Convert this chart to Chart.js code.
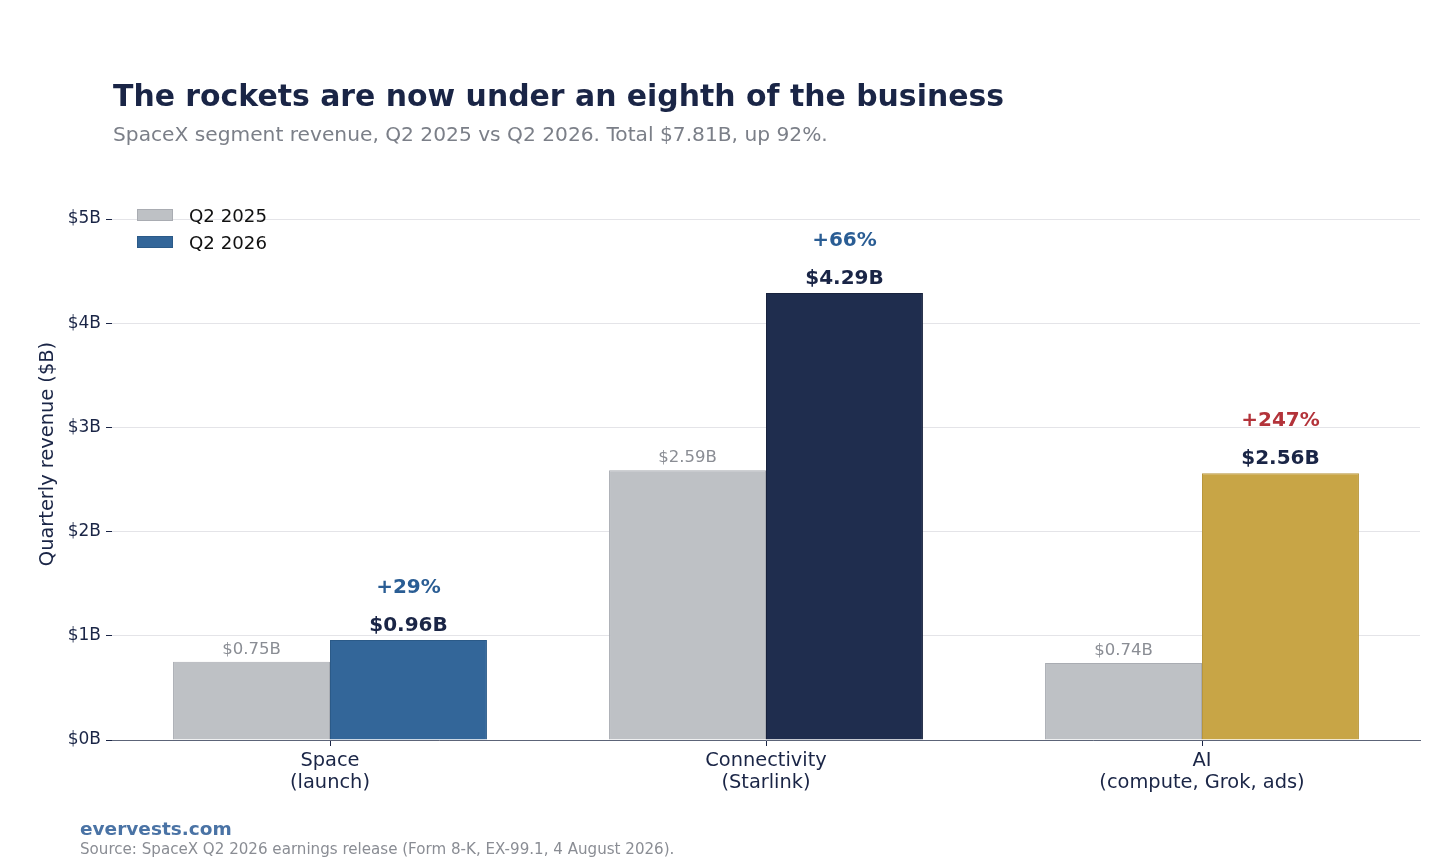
<!DOCTYPE html>
<html>
<head>
<meta charset="utf-8">
<script src="https://cdn.jsdelivr.net/npm/chart.js@4.4.1/dist/chart.umd.min.js"></script>
<style>
  html, body { margin: 0; padding: 0; background: #fff; }
  body { width: 1456px; height: 861px; position: relative; overflow: hidden; font-family: "DejaVu Sans", sans-serif; }
  #chart { position: absolute; left: 0; top: 0; }
  .txt { position: absolute; line-height: 1; white-space: nowrap; }
  #title { left: 113px; top: 81px; font-size: 29.9px; font-weight: bold; color: #1a2546; }
  #subtitle { left: 113px; top: 124px; font-size: 20.2px; color: #7b7f88; }
  #brand { left: 80px; top: 820px; font-size: 18.5px; font-weight: bold; color: #4a73a5; }
  #source { left: 80px; top: 842px; font-size: 15.1px; color: #8a8d94; }
</style>
</head>
<body>
<canvas id="chart" width="1456" height="861"></canvas>
<div class="txt" id="title">The rockets are now under an eighth of the business</div>
<div class="txt" id="subtitle">SpaceX segment revenue, Q2 2025 vs Q2 2026. Total $7.81B, up 92%.</div>
<div class="txt" id="brand">evervests.com</div>
<div class="txt" id="source">Source: SpaceX Q2 2026 earnings release (Form 8-K, EX-99.1, 4 August 2026).</div>

<script>
// segment revenue, $B
var categories = [["Space", "(launch)"], ["Connectivity", "(Starlink)"], ["AI", "(compute, Grok, ads)"]];
var seriesNames = ["Q2 2025", "Q2 2026"];
var q2025 = [0.75, 2.59, 0.74];
var q2026 = [0.96, 4.29, 2.56];
var growthLabels = ["+29%", "+66%", "+247%"];
var yTicks = [0, 1, 2, 3, 4, 5];

var NAVY = "#1a2546";
var GREY_BAR = "#bec1c5";
var newColors = ["#336699", "#1f2d4e", "#c8a546"];
var newBorders = ["#2b5a88", "#18223d", "#b8963c"];
var growthColors = ["#2a5d94", "#2a5d94", "#b3333a"];

function money(v) {
    return "$" + v.toFixed(2) + "B";
}

var barLabels = {
    id: "barLabels",
    afterDatasetsDraw: function (chart) {
        var ctx = chart.ctx;
        var oldMeta = chart.getDatasetMeta(0),
            newMeta = chart.getDatasetMeta(1);
        ctx.save();
        ctx.textAlign = "center";
        ctx.textBaseline = "alphabetic";
        oldMeta.data.forEach(function (bar, i) {
            ctx.font = "16.5px 'DejaVu Sans'";
            ctx.fillStyle = "#8a8d94";
            ctx.fillText(money(q2025[i]), bar.x, bar.y - 8);
        });
        newMeta.data.forEach(function (bar, i) {
            ctx.font = "bold 20px 'DejaVu Sans'";
            ctx.fillStyle = NAVY;
            ctx.fillText(money(q2026[i]), bar.x, bar.y - 9);
            ctx.fillStyle = growthColors[i];
            ctx.fillText(growthLabels[i], bar.x, bar.y - 47);
        });
        ctx.restore();
    }
};

// legend sits inside the plot, top-left
var innerLegend = {
    id: "innerLegend",
    afterDraw: function (chart) {
        var ctx = chart.ctx,
            a = chart.chartArea,
            fills = [GREY_BAR, newColors[0]],
            strokes = ["#a9acb2", newBorders[0]];
        ctx.save();
        ctx.font = "18.2px 'DejaVu Sans'";
        ctx.textAlign = "left";
        ctx.textBaseline = "alphabetic";
        seriesNames.forEach(function (name, i) {
            var top = 209 + i * 27;
            ctx.fillStyle = fills[i];
            ctx.fillRect(a.left + 25, top, 36, 12);
            ctx.strokeStyle = strokes[i];
            ctx.lineWidth = 1;
            ctx.strokeRect(a.left + 25.5, top + 0.5, 35, 11);
            ctx.fillStyle = "#111";
            ctx.fillText(name, a.left + 77, top + 13);
        });
        ctx.restore();
    }
};

Chart.defaults.font.family = "'DejaVu Sans', sans-serif";
Chart.defaults.color = NAVY;

var chart = new Chart(document.getElementById("chart").getContext("2d"), {
    type: "bar",
    data: {
        labels: categories,
        datasets: [
            {
                label: seriesNames[0],
                data: q2025,
                backgroundColor: GREY_BAR,
                borderColor: "#a9acb2",
                borderWidth: 1
            },
            {
                label: seriesNames[1],
                data: q2026,
                backgroundColor: newColors,
                borderColor: newBorders,
                borderWidth: 1
            }
        ]
    },
    options: {
        responsive: false,
        animation: false,
        layout: { padding: { left: 32, right: 36, top: 168, bottom: 61 } },
        datasets: { bar: { categoryPercentage: 0.72, barPercentage: 1.0 } },
        plugins: {
            legend: { display: false },
            tooltip: { enabled: false }
        },
        scales: {
            x: {
                grid: { display: true, drawOnChartArea: false, offset: false, tickLength: 6, tickColor: NAVY },
                border: { display: true, color: "#5c6478", width: 1 },
                ticks: { padding: 4, color: NAVY, font: { size: 19.4, lineHeight: 1.14 }, maxRotation: 0 },
                afterFit: function (s) { s.height = 60; }
            },
            y: {
                min: 0,
                max: 5.49,
                afterBuildTicks: function (s) {
                    s.ticks = yTicks.map(function (v) { return { value: v }; });
                },
                grid: { color: "#e4e4e8", lineWidth: 1, tickLength: 6, tickColor: NAVY },
                border: { display: false },
                ticks: {
                    padding: 5,
                    color: NAVY,
                    font: { size: 17 },
                    callback: function (v) { return "$" + v + "B"; }
                },
                title: { display: true, text: "Quarterly revenue ($B)", color: NAVY, font: { size: 19.4 } },
                afterFit: function (s) { s.width = 80; }
            }
        }
    },
    plugins: [barLabels, innerLegend]
});
</script>
</body>
</html>
